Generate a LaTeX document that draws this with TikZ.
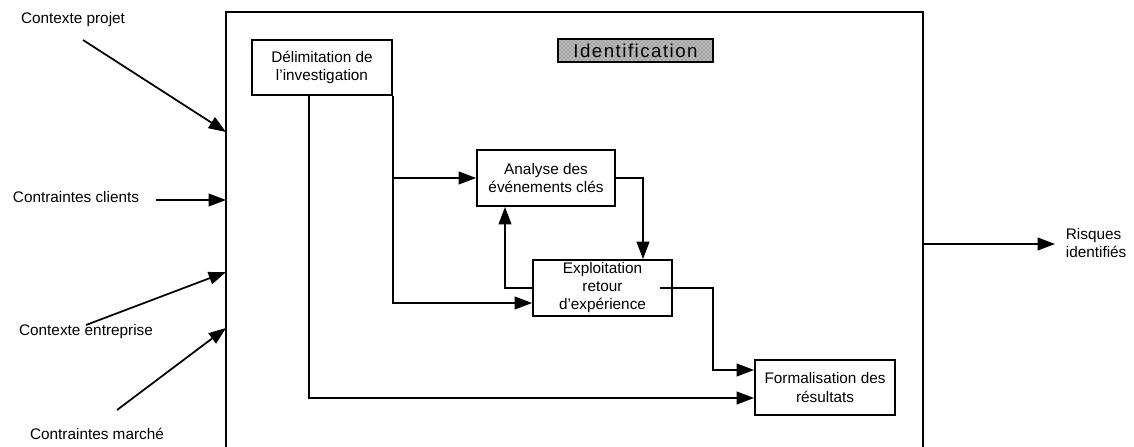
\documentclass[tikz,border=0pt]{standalone}
\usepackage{fontspec}
\setmainfont{Liberation Sans}
\usetikzlibrary{arrows.meta,patterns}
\begin{document}
\begin{tikzpicture}[x=0.75pt,y=-0.75pt,
  line width=1.3pt,
  arr/.style={-{Triangle[length=13pt,width=9.5pt]}},
  txt/.style={font=\fontsize{11.5}{14}\selectfont},
  stepbox/.style={draw,line width=1.4pt,align=center,inner sep=0pt,txt},
  lbl/.style={align=center,inner sep=0pt,txt},
]
\useasboundingbox (0,0) rectangle (1134,446);

% enclosing activity frame (open at the bottom)
\begin{scope}
  \clip (0,0) rectangle (1134,446);
  \node[draw,line width=1.5pt,minimum width=522.75pt,minimum height=345pt,inner sep=0pt]
    (frame) at (574.5,242) {};
\end{scope}

% title tag with a dotted screen
\node[draw,line width=1pt,preaction={fill=black!25},
      pattern=crosshatch dots,pattern color=black!80,
      minimum width=116.25pt,minimum height=17.25pt,inner sep=0pt,
      font=\fontsize{14}{14}\selectfont\addfontfeature{LetterSpace=8}]
  (title) at (635.5,50.5) {Identification};

% process steps
\node[stepbox,minimum width=105pt,minimum height=41.25pt]    (delim) at (322,67.5)
  {Délimitation de\\l'investigation};
\node[stepbox,minimum width=103.5pt,minimum height=42pt]     (analyse) at (546,178)
  {Analyse des\\événements clés};
\node[stepbox,minimum width=104.25pt,minimum height=42pt,
      font=\fontsize{11.5}{13.5}\selectfont]                 (explo) at (602.5,288)
  {Exploitation\\retour\\d'expérience};
\node[stepbox,minimum width=105pt,minimum height=41.25pt]    (form) at (825,387.5)
  {Formalisation des\\résultats};

% inputs
\node[lbl] (cproj)  at (73,20)   {Contexte projet};
\node[lbl] (cclient) at (76,197) {Contraintes clients};
\node[lbl] (centr)  at (86,332)  {Contexte entreprise};
\node[lbl] (cmarch) at (97,434)  {Contraintes marché};

\coordinate (cprojT)  at (83,40);
\coordinate (centrT)  at (86,325);
\coordinate (cmarchT) at (117,410);
\coordinate (inA) at (226,132);
\coordinate (inB) at (226,200);
\coordinate (inC) at (226,272);
\coordinate (inD) at (226,328);

\draw[arr] (cprojT) -- (inA);
\draw[arr] ([xshift=12pt,yshift=-2.25pt]cclient.east) -- (inB);
\draw[arr] (centrT) -- (inC);
\draw[arr] (cmarchT) -- (inD);

% output
\node[lbl,align=left,anchor=west] (risk) at (1065,243) {Risques\\identifiés};
\coordinate (outS) at (923,244);
\draw[arr] (outS) -- ([xshift=-7.5pt,yshift=-0.75pt]risk.west);

% internal flows
\draw[arr] ([xshift=-13*0.75pt]delim.south) |- ([yshift=-10.5*0.75pt]form.west);
\draw[arr] (delim.south east) |- ([yshift=-15*0.75pt]explo.west);
\draw[arr] (delim.south east |- analyse.west) -- (analyse.west);
\draw[arr] (analyse.east) -| ([xshift=40.5*0.75pt]explo.north);
\draw[arr] (explo.west) -| ([xshift=-41*0.75pt]analyse.south);
\coordinate (exOut) at (660,288);
\draw[arr] (exOut) -- ++(53,0) |- ([yshift=17.5*0.75pt]form.west);
\end{tikzpicture}
\end{document}
